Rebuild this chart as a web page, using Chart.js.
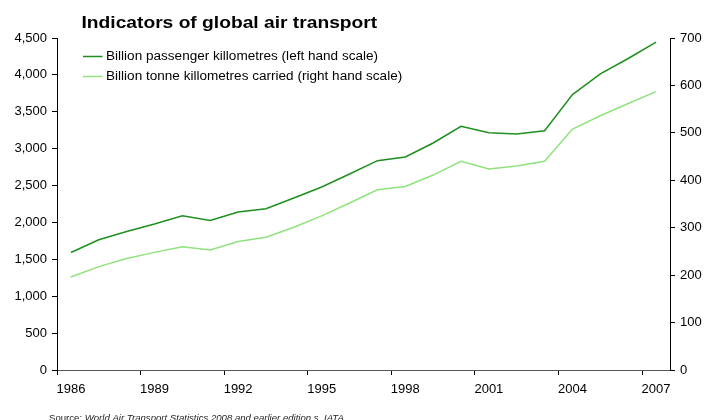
<!DOCTYPE html>
<html>
<head>
<meta charset="utf-8">
<title>Indicators of global air transport</title>
<script src="https://cdn.jsdelivr.net/npm/chart.js@4/dist/chart.umd.min.js"></script>
<style>
  html, body { margin: 0; padding: 0; background: #fff; }
  #wrap { width: 704px; height: 420px; }
</style>
</head>
<body>
<div id="wrap"><canvas id="chart" width="704" height="420"></canvas></div>
<script>
// Años y series (pasajeros-km a la izquierda, tonelada-km a la derecha)
const years = ['1986', '1987', '1988', '1989', '1990', '1991', '1992', '1993', '1994', '1995', '1996',
               '1997', '1998', '1999', '2000', '2001', '2002', '2003', '2004', '2005', '2006', '2007'];
const passengerKm = [1592, 1765, 1877, 1978, 2091, 2027, 2141, 2186, 2331, 2480, 2657,
                     2837, 2887, 3077, 3303, 3215, 3200, 3242, 3733, 4014, 4222, 4443];
const tonneKm = [196, 218, 235, 248, 260, 253, 271, 280, 301, 325, 352,
                 380, 387, 411, 440, 424, 430, 440, 508, 536, 562, 587];
const leftTicks = [0, 500, 1000, 1500, 2000, 2500, 3000, 3500, 4000, 4500];
const rightTicks = [0, 100, 200, 300, 400, 500, 600, 700];

const darkGreen = '#1f8f1f';
const lightGreen = '#90e27c';
const font = { family: 'Liberation Sans, Arial, sans-serif', size: 13 };

// Texto un poco ensanchado en horizontal, como en el original
function wideText(ctx, txt, x, y, sx) {
    ctx.save();
    ctx.translate(x, y);
    ctx.scale(sx, 1);
    ctx.fillText(txt, 0, 0);
    ctx.restore();
}

// Título, leyenda y fuente dibujados a mano sobre el lienzo
const extras = {
    id: 'extras',
    afterDraw(chart) {
        const ctx = chart.ctx;
        ctx.save();
        ctx.fillStyle = '#000';
        ctx.textBaseline = 'alphabetic';
        ctx.font = 'bold 17px Liberation Sans, Arial, sans-serif';
        wideText(ctx, 'Indicators of global air transport', 81.5, 28.3, 1.13);

        ctx.font = '12px Liberation Sans, Arial, sans-serif';
        ctx.textBaseline = 'middle';
        chart.data.datasets.forEach(function(ds, i) {
            const y = 56 + i * 20;
            ctx.strokeStyle = ds.borderColor;
            ctx.lineWidth = 1.5;
            ctx.beginPath();
            ctx.moveTo(83, y + 0.5);
            ctx.lineTo(102.5, y + 0.5);
            ctx.stroke();
            ctx.fillStyle = '#000';
            wideText(ctx, ds.label, 106, y + 1, 1.13);
        });

        ctx.textBaseline = 'alphabetic';
        ctx.fillStyle = '#222';
        ctx.font = '9.6px Liberation Sans, Arial, sans-serif';
        const src = 'Source: ';
        ctx.fillText(src, 49, 420.5);
        const w = ctx.measureText(src).width;
        ctx.font = 'italic 9.6px Liberation Sans, Arial, sans-serif';
        ctx.fillText('World Air Transport Statistics 2008 and earlier edition s, IATA', 49 + w, 420.5);
        ctx.restore();
    }
};

new Chart(document.getElementById('chart'), {
    type: 'line',
    data: {
        labels: years,
        datasets: [{
            label: 'Billion passenger killometres (left hand scale)',
            data: passengerKm,
            borderColor: darkGreen,
            borderWidth: 1.5,
            pointRadius: 0,
            yAxisID: 'y'
        }, {
            label: 'Billion tonne killometres carried (right hand scale)',
            data: tonneKm,
            borderColor: lightGreen,
            borderWidth: 1.5,
            pointRadius: 0,
            yAxisID: 'y1'
        }]
    },
    options: {
        responsive: false,
        animation: false,
        layout: { padding: { top: 38, left: 0, right: 0, bottom: 20 } },
        plugins: { legend: { display: false }, tooltip: { enabled: false } },
        scales: {
            x: {
                type: 'category',
                offset: true,
                afterFit: function(s) { s.height = 30; },
                grid: {
                    offset: true,
                    drawOnChartArea: false,
                    tickLength: 5,
                    tickColor: function(c) { return (c.index !== undefined && c.index % 3 === 0) ? '#000' : 'rgba(0,0,0,0)'; }
                },
                border: { color: '#555', width: 1 },
                ticks: {
                    autoSkip: false,
                    maxRotation: 0,
                    padding: 7,
                    color: '#000',
                    font: font,
                    callback: function(v, i) { return i % 3 === 0 ? years[i] : ''; }
                }
            },
            y: {
                position: 'left',
                min: 0,
                max: 4500,
                afterFit: function(s) { s.width = 57; },
                afterBuildTicks: function(s) { s.ticks = leftTicks.map(function(v) { return { value: v }; }); },
                grid: { drawOnChartArea: false, tickLength: 5, tickColor: '#000' },
                border: { color: '#000', width: 1 },
                ticks: {
                    padding: 5,
                    color: '#000',
                    font: font,
                    callback: function(v) { return v.toLocaleString('en-US'); }
                }
            },
            y1: {
                position: 'right',
                min: 0,
                max: 700,
                afterFit: function(s) { s.width = 34; },
                afterBuildTicks: function(s) { s.ticks = rightTicks.map(function(v) { return { value: v }; }); },
                grid: { drawOnChartArea: false, tickLength: 5, tickColor: '#000' },
                border: { color: '#000', width: 1 },
                ticks: {
                    padding: 5,
                    color: '#000',
                    font: font
                }
            }
        }
    },
    plugins: [extras]
});
</script>
</body>
</html>
